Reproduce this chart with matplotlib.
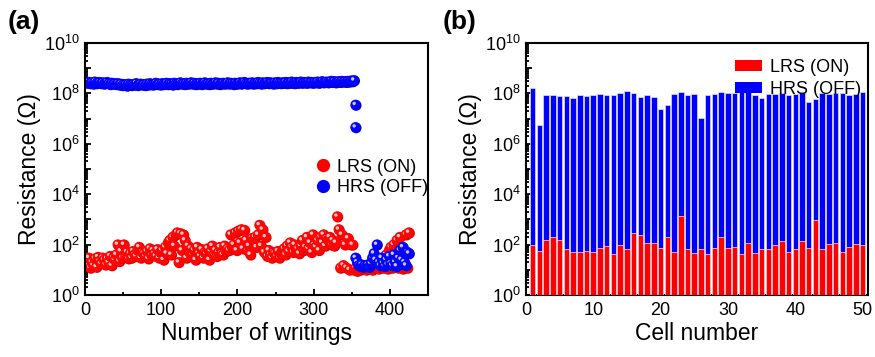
import numpy as np
import matplotlib
matplotlib.use('Agg')
import matplotlib.pyplot as plt
from matplotlib.transforms import offset_copy
from matplotlib.lines import Line2D
from matplotlib.patches import Patch
from matplotlib.ticker import LogLocator, FuncFormatter, MultipleLocator, NullFormatter

plt.rcParams['font.family'] = ['Liberation Sans', 'DejaVu Sans']
plt.rcParams['mathtext.fontset'] = 'custom'
plt.rcParams['mathtext.rm'] = 'Liberation Sans'
plt.rcParams['mathtext.it'] = 'Liberation Sans:italic'
plt.rcParams['mathtext.bf'] = 'Liberation Sans:bold'

# ---------------- data: panel (a) ----------------
lrs_writing = np.arange(1, 426, 2)
lrs_values = [
    25, 14, 30, 12, 20,   15, 28, 13, 32, 22,   18, 30, 25, 16, 28,   20, 35, 15, 30, 25,
    40, 100, 22, 55, 30,  100, 35, 50, 28, 45,  30, 55, 40, 35, 60,   80, 30, 50, 45, 35,
    55, 28, 70, 40, 60,   45, 35, 65, 30, 50,   60, 25, 80, 45, 120,  150, 40, 200, 90, 250,
    300, 20, 280, 60, 250, 150, 30, 90, 50, 70, 40, 60, 25, 80, 45,   35, 65, 30, 50, 45,
    70, 25, 55, 90, 40,   60, 35, 50, 80, 45,   40, 90, 55, 70, 60,   250, 80, 100, 300, 60,
    350, 120, 400, 70, 380, 150, 60, 90, 40, 180, 150, 200, 80, 250, 600, 90, 400, 50, 200, 35,
    60, 40, 30, 50, 45,   35, 55, 30, 45, 60,   70, 40, 90, 55, 120,  80, 50, 100, 60, 70,
    45, 90, 150, 60, 80,  200, 70, 120, 50, 250, 100, 80, 150, 60, 200, 120, 250, 90, 180, 150,
    200, 100, 150, 90, 120, 1300, 400, 12, 250, 15, 100, 12, 180, 10, 100, 100, 10, 12, 9, 11,
    10, 12, 11, 13, 10,   12, 11, 14, 10, 13,   12, 15, 11, 13, 25,   12, 14, 40, 11, 60,
    80, 12, 100, 13, 150, 12, 200, 14, 11, 13,  250, 12, 300,
]

hrs_writing = np.arange(1, 354, 2)
hrs_values_e8 = [
    3.0, 2.6, 2.8, 2.5, 2.7, 2.4, 2.9, 2.5, 2.6, 2.8,
    2.5, 2.7, 2.4, 2.6, 2.8, 2.5, 2.3, 2.6, 2.4, 2.5,
    2.3, 2.5, 2.2, 2.4, 2.1, 2.3, 2.2, 2.0, 2.4, 2.2,
    2.1, 2.3, 2.2, 2.5, 2.1, 2.3, 2.4, 2.2, 2.3, 2.1,
    2.4, 2.2, 2.5, 2.3, 2.2, 2.4, 2.6, 2.3, 2.4, 2.2,
    2.5, 2.3, 2.4, 2.6, 2.3, 2.5, 2.4, 2.2, 2.6, 2.4,
    2.3, 2.5, 2.7, 2.4, 2.5, 2.3, 2.6, 2.4, 2.5, 2.7,
    2.4, 2.6, 2.3, 2.5, 2.4, 2.6, 2.3, 2.5, 2.7, 2.4,
    2.5, 2.3, 2.6, 2.4, 2.5, 2.7, 2.4, 2.6, 2.3, 2.5,
    2.6, 2.4, 2.5, 2.7, 2.4, 2.6, 2.5, 2.3, 2.6, 2.4,
    2.5, 2.7, 2.4, 2.6, 2.8, 2.5, 2.4, 2.6, 2.5, 2.7,
    2.4, 2.6, 2.5, 2.8, 2.6, 2.4, 2.7, 2.5, 2.6, 2.8,
    2.5, 2.7, 2.6, 2.4, 2.7, 2.5, 2.8, 2.6, 2.5, 2.7,
    2.6, 2.8, 2.5, 2.7, 2.6, 2.9, 2.6, 2.5, 2.8, 2.6,
    2.7, 2.9, 2.6, 2.8, 2.7, 2.6, 2.9, 2.7, 2.8, 2.6,
    2.8, 2.7, 2.9, 2.6, 2.8, 3.0, 2.7, 2.8, 2.9, 2.7,
    2.9, 3.1, 2.8, 3.0, 2.7, 2.9, 3.0, 2.8, 3.1, 2.9,
    3.0, 2.8, 3.1, 2.9, 3.2, 3.0, 3.3,
]
hrs_drop_writing = [355, 355]
hrs_drop_values = [3.5e7, 4.5e6]

hrs_low_writing = np.arange(355, 426, 2)
hrs_low_values = [
    30, 20, 15, 14, 16, 13, 15, 14, 16, 13,
    18, 30, 45, 25, 100, 20, 15, 30, 18, 14,
    25, 16, 35, 18, 15, 40, 20, 14, 30, 60,
    25, 80, 20, 15, 50, 45,
]

# ---------------- data: panel (b) ----------------
cells = np.arange(1, 51)
lrs_cell = [95, 58, 150, 200, 150, 65, 52, 52, 58, 52,
            75, 87, 41, 95, 65, 280, 250, 120, 120, 70,
            195, 52, 1350, 65, 45, 65, 41, 75, 195, 70,
            83, 41, 120, 45, 65, 65, 95, 135, 52, 65,
            135, 70, 930, 65, 105, 112, 52, 83, 105, 95]
hrs_cell = [1.7e8, 5.8e6, 8.7e7, 8.7e7, 8.1e7, 8.1e7, 6.8e7, 8.7e7, 8.1e7, 8.7e7,
            9.5e7, 8.7e7, 8.7e7, 1.05e8, 1.2e8, 1.05e8, 7.4e7, 8.7e7, 7.4e7, 2.5e7,
            3.5e7, 9.5e7, 1.15e8, 8.7e7, 9.5e7, 1.1e7, 8.7e7, 9.5e7, 1.15e8, 1.05e8,
            1.05e8, 1.25e8, 1.6e8, 8.7e7, 6.8e7, 9.5e7, 9.5e7, 1.05e8, 8.7e7, 9.5e7,
            1.15e8, 4.6e7, 5.9e7, 1.05e8, 9.5e7, 1.05e8, 1.05e8, 8.7e7, 9.5e7, 1.15e8]

RED = '#ff0000'
BLUE = '#0000ff'

fig = plt.figure(figsize=(8.75, 3.57), dpi=100)
axA = fig.add_axes([0.0971, 0.1737, 0.392, 0.706])
axB = fig.add_axes([0.601, 0.1737, 0.391, 0.706])

hi_tr = offset_copy(axA.transData, fig=fig, x=-1.4, y=1.4, units='dots')
sh_tr = offset_copy(axA.transData, fig=fig, x=0.6, y=-0.6, units='dots')


def draw_balls(ax, xs, ys, face, edge, hi):
    for x, y in zip(xs, ys):
        ax.scatter([x], [y], s=60, color=edge, edgecolors='none', zorder=2, transform=sh_tr)
        ax.scatter([x], [y], s=56, color=face, edgecolors='none', zorder=2)
        ax.scatter([x], [y], s=6, color=hi, edgecolors='none', zorder=2, transform=hi_tr)


axA.set_yscale('log')
axA.set_xlim(0, 450)
axA.set_ylim(1, 1e10)

draw_balls(axA, lrs_writing, lrs_values, '#ff0505', '#d40000', '#ffc8c8')
draw_balls(axA, hrs_writing, np.array(hrs_values_e8) * 1e8, '#0505ff', '#0000c0', '#c8c8ff')
draw_balls(axA, hrs_drop_writing, hrs_drop_values, '#0505ff', '#0000c0', '#c8c8ff')
draw_balls(axA, hrs_low_writing, hrs_low_values, '#0505ff', '#0000c0', '#c8c8ff')

handlesA = [Line2D([], [], marker='o', ls='', color=RED, markersize=8.5),
            Line2D([], [], marker='o', ls='', color=BLUE, markersize=8.5)]
axA.legend(handlesA, ['LRS (ON)', 'HRS (OFF)'], loc='upper left',
           bbox_to_anchor=(0.64, 0.57), frameon=False, fontsize=13,
           handletextpad=0.2, labelspacing=0.2, borderaxespad=0, handlelength=1.2)

axA.set_xlabel('Number of writings', fontsize=16.5, labelpad=2)
axA.set_ylabel('Resistance (\u03a9)', fontsize=16.5, labelpad=2)
axA.xaxis.set_major_locator(MultipleLocator(100))
axA.xaxis.set_minor_locator(MultipleLocator(50))

# panel (b)
axB.set_yscale('log')
axB.bar(cells, hrs_cell, width=0.82, color=BLUE, edgecolor='#e0e0ff', linewidth=0.5, zorder=2)
axB.bar(cells, lrs_cell, width=0.82, color=RED, edgecolor='#ffe0e0', linewidth=0.5, zorder=3)
axB.set_xlim(0, 50.8)
axB.set_ylim(1, 1e10)
handlesB = [Patch(facecolor=RED, edgecolor='none'), Patch(facecolor=BLUE, edgecolor='none')]
axB.legend(handlesB, ['LRS (ON)', 'HRS (OFF)'], loc='upper right',
           bbox_to_anchor=(1.0, 0.965), frameon=False, fontsize=13,
           handletextpad=0.4, labelspacing=0.25, borderaxespad=0,
           handlelength=1.5, handleheight=0.55)
axB.set_xlabel('Cell number', fontsize=16.5, labelpad=2)
axB.set_ylabel('Resistance (\u03a9)', fontsize=16.5, labelpad=2)
axB.xaxis.set_major_locator(MultipleLocator(10))
axB.xaxis.set_minor_locator(MultipleLocator(5))


def ylab(v, pos):
    e = int(round(np.log10(v)))
    if e % 2 == 0:
        return r'$\mathregular{10^{%d}}$' % e
    return ''


for ax in (axA, axB):
    ax.yaxis.set_major_locator(LogLocator(base=10, subs=(1.0,), numticks=20))
    ax.yaxis.set_minor_locator(LogLocator(base=10, subs=np.arange(2, 10), numticks=20))
    ax.yaxis.set_major_formatter(FuncFormatter(ylab))
    ax.yaxis.set_minor_formatter(NullFormatter())
    ax.tick_params(which='both', direction='in', top=False, right=False, labelsize=13,
                   width=1.3, colors='black')
    ax.tick_params(which='major', length=4.5, pad=4)
    ax.tick_params(which='minor', length=2.5)
    ax.tick_params(axis='x', which='major', pad=5)
    for s in ax.spines.values():
        s.set_linewidth(1.5)
        s.set_color('black')

fig.text(8 / 875, 1 - 22 / 357, '(a)', fontsize=19, fontweight='bold', va='center', ha='left')
fig.text(443 / 875, 1 - 22 / 357, '(b)', fontsize=19, fontweight='bold', va='center', ha='left')

fig.savefig('out.png', dpi=100)
